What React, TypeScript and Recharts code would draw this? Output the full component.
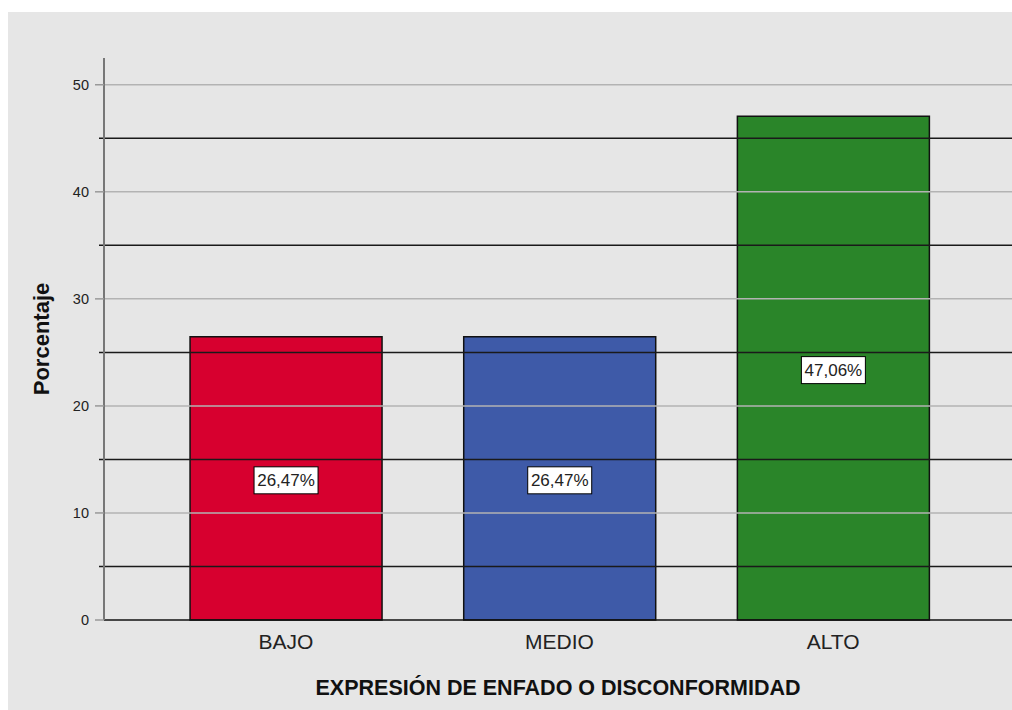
import React from "react";
import {
  Bar,
  BarChart,
  Cell,
  LabelList,
  ReferenceLine,
  XAxis,
  YAxis,
} from "recharts";

const categories = ["BAJO", "MEDIO", "ALTO"];
const percentages = [26.47, 26.47, 47.06];
const valueLabels = ["26,47%", "26,47%", "47,06%"];
const barColors = ["#d7002f", "#3e5aa8", "#2a8529"];
const majorTicks = [0, 10, 20, 30, 40, 50];
const minorTicks = [5, 15, 25, 35, 45];

const data = categories.map((name, i) => ({
  name,
  value: percentages[i],
  label: valueLabels[i],
}));

const FONT = "'Liberation Sans', Arial, sans-serif";

function BoxLabel(props: any) {
  const { x, y, width, height, index } = props;
  const cx = x + width / 2;
  const cy = y + height / 2;
  const w = 64;
  const h = 27;
  return (
    <g>
      <rect
        x={cx - w / 2}
        y={cy - h / 2 + 2}
        width={w}
        height={h}
        fill="#ffffff"
        stroke="#000000"
        strokeWidth={1}
      />
      <text
        x={cx}
        y={cy + 8}
        textAnchor="middle"
        fontFamily={FONT}
        fontSize={17}
        fill="#222222"
      >
        {valueLabels[index]}
      </text>
    </g>
  );
}

function MinorLine(props: any) {
  const { x1, y1, x2, y2 } = props;
  return <line x1={x1 - 5} y1={y1} x2={x2} y2={y2} stroke="#1a1a1a" strokeWidth={1.5} />;
}

export default function App() {
  return (
    <div
      style={{
        position: "absolute",
        left: 0,
        top: 0,
        width: 1012,
        height: 710,
        background: "#ffffff",
      }}
    >
      <div
        style={{
          position: "absolute",
          left: 8,
          top: 12,
          width: 1004,
          height: 698,
          background: "#e6e6e6",
        }}
      >
        <BarChart
          width={1004}
          height={698}
          data={data}
          margin={{ top: 46, right: 0, bottom: 0, left: 0 }}
          barCategoryGap="15%"
        >
          {majorTicks.slice(1).map((t) => (
            <ReferenceLine key={"M" + t} y={t} stroke="#b3b3b3" strokeWidth={1.5} />
          ))}
          {minorTicks.map((t) => (
            <ReferenceLine key={"m" + t} y={t} shape={MinorLine} />
          ))}
          <XAxis
            dataKey="name"
            height={90}
            padding={{ left: 45, right: 42 }}
            axisLine={{ stroke: "#111111", strokeWidth: 1.5 }}
            tickLine={false}
            tickSize={0}
            tickMargin={14}
            tick={{ fontFamily: FONT, fontSize: 21, fill: "#222222" }}
            label={{
              value: "EXPRESIÓN DE ENFADO O DISCONFORMIDAD",
              position: "insideBottom",
              offset: 15,
              style: {
                fontFamily: FONT,
                fontSize: 21.5,
                fontWeight: "bold",
                fill: "#111111",
              },
            }}
          />
          <YAxis
            width={96}
            domain={[0, 52.5]}
            ticks={majorTicks}
            interval={0}
            axisLine={{ stroke: "#777777", strokeWidth: 2 }}
            tickLine={{ stroke: "#999999", strokeWidth: 1.5 }}
            tickSize={9}
            tickMargin={6}
            tick={{ fontFamily: FONT, fontSize: 14.5, fill: "#222222" }}
            label={{
              value: "Porcentaje",
              angle: -90,
              position: "insideLeft",
              offset: 33,
              style: {
                textAnchor: "middle",
                fontFamily: FONT,
                fontSize: 22,
                fontWeight: "bold",
                fill: "#111111",
              },
            }}
          />
          <Bar
            dataKey="value"
            stroke="#111111"
            strokeWidth={1.5}
            isAnimationActive={false}
          >
            {data.map((d, i) => (
              <Cell key={d.name} fill={barColors[i]} />
            ))}
            <LabelList dataKey="label" content={BoxLabel} />
          </Bar>
        </BarChart>
      </div>
    </div>
  );
}
